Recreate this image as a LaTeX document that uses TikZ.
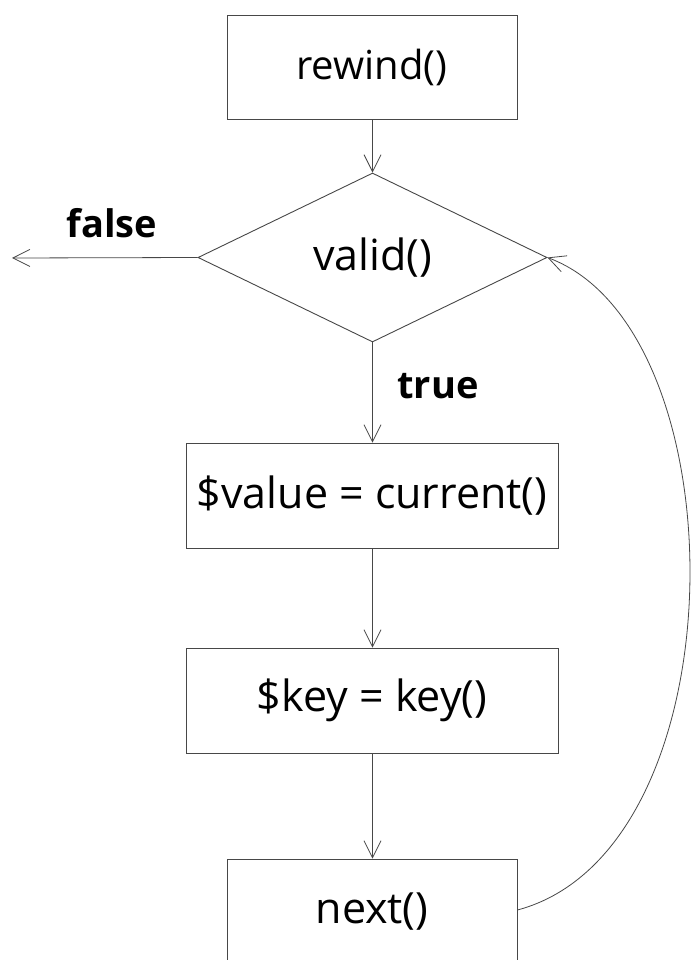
\documentclass[tikz,border=0pt]{standalone}
\usepackage{fontspec}
\setmainfont{Open Sans}
\usetikzlibrary{shapes.geometric,arrows.meta}
\begin{document}
\begin{tikzpicture}[x=1pt,y=-1pt,
  flow/.style={draw=black!72, line width=0.9pt},
  txt/.style={font=\fontsize{43}{50}\selectfont},
  box/.style={flow, rectangle, inner sep=0pt, txt},
  decision/.style={flow, diamond, inner sep=0pt, txt},
  conn/.style={draw=black!72, line width=0.8pt,
    -{Straight Barb[length=17pt,width=17pt,line width=0.8pt]}},
  lbl/.style={font=\bfseries\fontsize{38}{46}\selectfont, anchor=base}]
\useasboundingbox (0,0) rectangle (690,960);

% process steps
\node[box, minimum width=290pt, minimum height=104pt, font=\fontsize{40}{48}\selectfont] (rewind) at (372,67) {rewind()};
\node[decision, minimum width=349pt, minimum height=169pt, aspect=2.06] (valid) at (372.5,257.5) {valid()};
\node[box, minimum width=372pt, minimum height=105pt] (current) at (372,495.5) {\$value = current()};
\node[box, minimum width=372pt, minimum height=105pt] (key) at (372,700.5) {\$key = key()};
\node[box, minimum width=290pt, minimum height=112pt] (next) at (372,915) {};
\node[txt] (nexttext) at (372,912) {next()};

% exit point of the loop
\coordinate (exit) at (12,258);

% connectors
\draw[conn] (rewind.south -| valid.north) -- (valid.north);
\draw[conn] (valid.west) -- (exit);
\draw[conn] (valid.south) -- (valid.south |- current.north);
\draw[conn] (current.south -| valid.south) -- (valid.south |- key.north);
\draw[conn] (key.south -| valid.south) -- (valid.south |- next.north);
\draw[conn] (next.east |- 0,910) .. controls (742,850) and (742,330) .. (valid.east);

% branch labels
\node[lbl] (false) at (112,237) {false};
\node[lbl] (true) at (438,398) {true};
\end{tikzpicture}
\end{document}
